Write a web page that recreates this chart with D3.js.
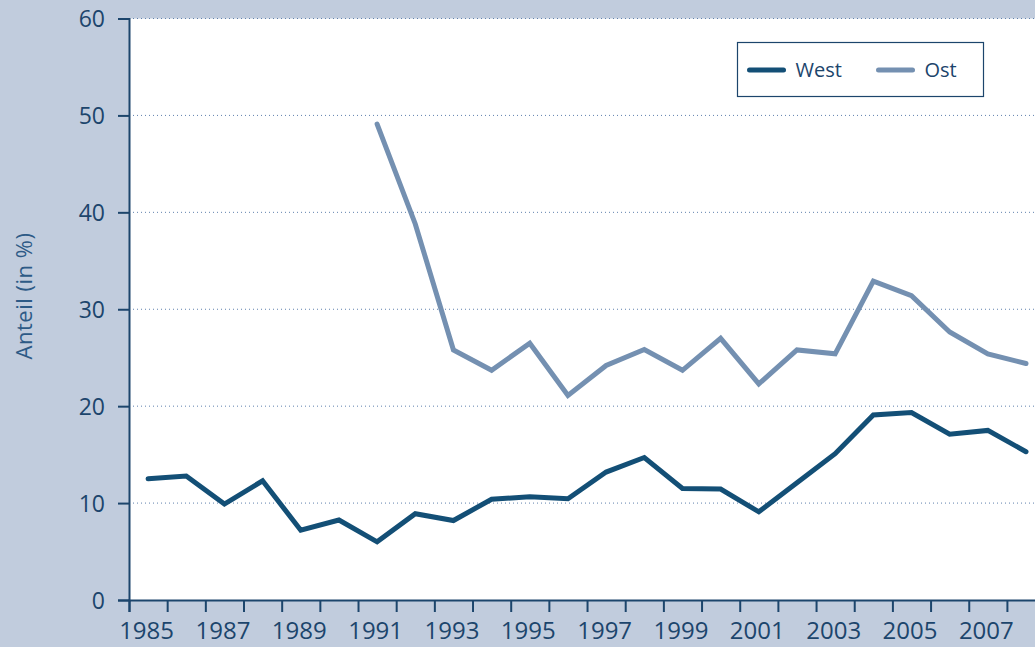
<!DOCTYPE html>
<html>
<head>
<meta charset="utf-8">
<script src="https://cdn.jsdelivr.net/npm/d3@7"></script>
<style>
  html, body { margin: 0; padding: 0; background: #c1ccdd; }
  svg { display: block; }
  svg text { font-family: "Open Sans", "Noto Sans", sans-serif; }
</style>
</head>
<body>
<div id="chart"></div>
<script>
// data
var years = [1985, 1986, 1987, 1988, 1989, 1990, 1991, 1992, 1993, 1994, 1995, 1996,
             1997, 1998, 1999, 2000, 2001, 2002, 2003, 2004, 2005, 2006, 2007, 2008];
var west = [12.5, 12.8, 9.9, 12.3, 7.2, 8.25, 6.0, 8.9, 8.2, 10.4, 10.65, 10.45,
            13.2, 14.7, 11.5, 11.45, 9.1, 12.1, 15.1, 19.1, 19.35, 17.1, 17.5, 15.3];
var ost = [null, null, null, null, null, null, 49.1, 38.8, 25.8, 23.7, 26.5, 21.1,
           24.2, 25.85, 23.7, 27.0, 22.3, 25.8, 25.4, 32.9, 31.4, 27.65, 25.4, 24.4];
var yTicks = [0, 10, 20, 30, 40, 50, 60];
var xLabels = [1985, 1987, 1989, 1991, 1993, 1995, 1997, 1999, 2001, 2003, 2005, 2007];
var seriesNames = ["West", "Ost"];
var seriesColors = ["#134f76", "#7490b1"];

var width = 1035, height = 647;
var plotLeft = 129, plotTop = 18.5, plotBottom = 600;
var bandW = 38.17;

var svg = d3.select("#chart").append("svg")
  .attr("width", width)
  .attr("height", height);

svg.append("rect")
  .attr("width", width).attr("height", height)
  .attr("fill", "#c1ccdd");

var x = d3.scaleLinear()
  .domain([years[0] - 0.5, years[years.length - 1] + 0.5])
  .range([plotLeft, plotLeft + years.length * bandW]);

var y = d3.scaleLinear()
  .domain([0, 60])
  .range([plotBottom, plotTop]);

// white plot area
svg.append("rect")
  .attr("x", plotLeft).attr("y", plotTop)
  .attr("width", width - plotLeft).attr("height", plotBottom - plotTop)
  .attr("fill", "#ffffff");

// dotted grid lines
svg.append("g")
  .selectAll("line")
  .data(yTicks.filter(function(d) { return d > 0; }))
  .enter().append("line")
  .attr("x1", plotLeft).attr("x2", width)
  .attr("y1", function(d) { return y(d); })
  .attr("y2", function(d) { return y(d); })
  .attr("stroke", "#5f80ad")
  .attr("stroke-width", 1)
  .attr("stroke-dasharray", "1,3");

// y axis
var yAxis = svg.append("g")
  .attr("transform", "translate(" + plotLeft + ",0)")
  .call(d3.axisLeft(y).tickValues(yTicks).tickSize(11).tickPadding(13));
yAxis.select(".domain").attr("stroke", "#1c456c").attr("stroke-width", 2);
yAxis.selectAll(".tick line").attr("stroke", "#1c456c").attr("stroke-width", 2);
yAxis.selectAll(".tick text")
  .attr("fill", "#1c456c")
  .style("font-size", "23px")
  .attr("dy", "0.36em");

// x axis: tick marks on year boundaries
var bounds = years.map(function(d) { return d - 0.5; });
var xAxis = svg.append("g")
  .attr("transform", "translate(0," + plotBottom + ")")
  .call(d3.axisBottom(x).tickValues(bounds).tickSize(12).tickFormat(""));
xAxis.select(".domain").attr("stroke", "#1c456c").attr("stroke-width", 2);
xAxis.selectAll(".tick line").attr("stroke", "#1c456c").attr("stroke-width", 2);

// x labels at band centers
var xLab = svg.append("g")
  .attr("transform", "translate(0," + plotBottom + ")")
  .call(d3.axisBottom(x).tickValues(xLabels).tickSize(0).tickPadding(22).tickFormat(d3.format("d")));
xLab.select(".domain").remove();
xLab.selectAll(".tick text")
  .attr("fill", "#1c456c")
  .style("font-size", "24px")
  .attr("dx", "-2");

// y axis title
svg.append("text")
  .attr("transform", "translate(32,296) rotate(-90)")
  .attr("text-anchor", "middle")
  .attr("fill", "#2d5a86")
  .style("font-size", "22px")
  .style("letter-spacing", "0.5px")
  .text("Anteil (in %)");

// lines
var line = d3.line()
  .defined(function(d) { return d.v != null; })
  .x(function(d) { return x(d.year); })
  .y(function(d) { return y(d.v); });

[west, ost].forEach(function(vals, i) {
  svg.append("path")
    .datum(years.map(function(yr, j) { return { year: yr, v: vals[j] }; }))
    .attr("d", line)
    .attr("fill", "none")
    .attr("stroke", seriesColors[i])
    .attr("stroke-width", 5)
    .attr("stroke-linecap", "round")
    .attr("stroke-linejoin", "miter");
});

// legend
var legend = svg.append("g").attr("transform", "translate(737.5,42.5)");
legend.append("rect")
  .attr("width", 246).attr("height", 54)
  .attr("fill", "#ffffff")
  .attr("stroke", "#1c456c")
  .attr("stroke-width", 1.2);

var legX = [12, 141];
var items = legend.selectAll(".item")
  .data(seriesNames)
  .enter().append("g")
  .attr("class", "item")
  .attr("transform", function(d, i) { return "translate(" + legX[i] + ",27.5)"; });
items.append("line")
  .attr("x1", 0).attr("x2", 34)
  .attr("stroke", function(d, i) { return seriesColors[i]; })
  .attr("stroke-width", 5)
  .attr("stroke-linecap", "round");
items.append("text")
  .attr("x", 46).attr("dy", "0.36em")
  .attr("fill", "#1c456c")
  .style("font-size", "20px")
  .text(function(d) { return d; });
</script>
</body>
</html>
